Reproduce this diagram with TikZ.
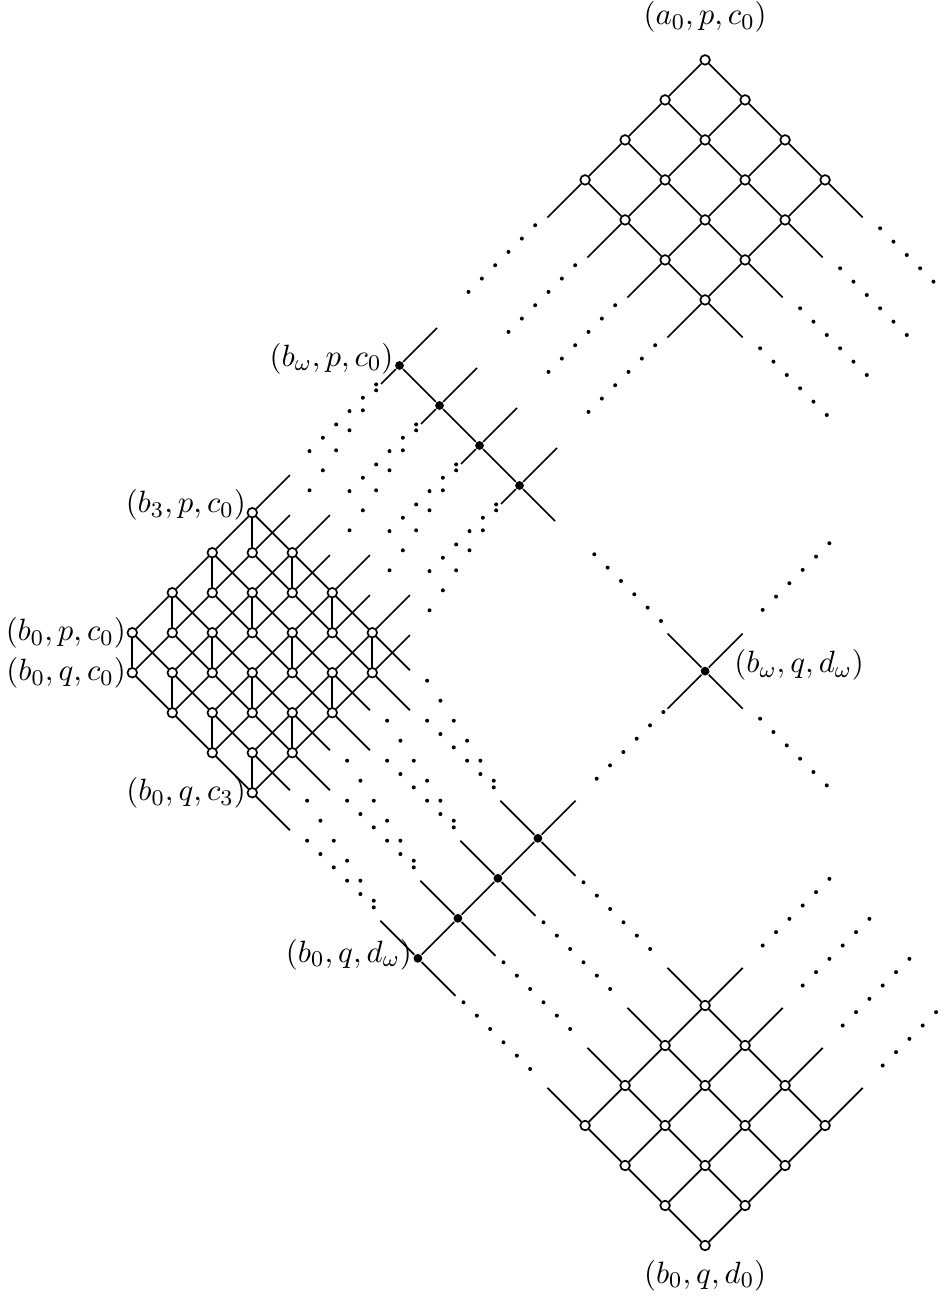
\documentclass[tikz,border=0pt]{standalone}
\usepackage{amsmath, amssymb}
\usepackage{tikz}
\usetikzlibrary{calc, positioning}

\tikzset{
  vtx/.style={circle, draw, fill=white, inner sep=0pt, minimum size=0.12cm},
  bvtx/.style={circle, fill=black, inner sep=0pt, minimum size=0.11cm},
  lbl/.style={inner sep=0pt, font=\fontsize{10.95}{13}\selectfont},
}
% 6 chấm trên một đường
\newcommand{\dotrun}[3]{%
  \foreach \s in {0,...,5} \fill ($(#1)+#2+\s*#3$) circle[radius=0.025cm];
}

\begin{document}
\begin{tikzpicture}[x=0.5cm, y=0.5cm, line width=0.6pt]
    \useasboundingbox (-3.3075,15.8175) rectangle (20.2925,-16.6075);

    % Khối b x {p,q} x c
    \foreach \b in {0,...,3}
      \foreach \c in {0,...,3} {
        \node[vtx] (p\b\c) at (\b+\c, \b-\c) {};
        \node[vtx] (q\b\c) at (\b+\c, \b-\c-1) {};
        \draw (p\b\c) -- (q\b\c);
      }
    \foreach \b/\bb in {0/1,1/2,2/3}
      \foreach \c in {0,...,3} {
        \draw (p\b\c) -- (p\bb\c);
        \draw (q\b\c) -- (q\bb\c);
        \draw (p\c\b) -- (p\c\bb);
        \draw (q\c\b) -- (q\c\bb);
      }
    \foreach \c in {0,...,3} {
        \draw (p3\c) -- ++(0.94,0.94);
        \draw (q3\c) -- ++(0.94,0.94);
        \draw (p\c3) -- ++(0.94,-0.94);
        \draw (q\c3) -- ++(0.94,-0.94);
    }

    % Hai xích đen và đỉnh giữa
    \foreach \k in {0,...,3} {
        \node[bvtx] (u\k) at (6.68+\k, 6.68-\k) {};
        \node[bvtx] (l\k) at (7.14+\k, -8.14+\k) {};
    }
    \foreach \k/\kk in {0/1,1/2,2/3} {
        \draw (u\k) -- (u\kk);
        \draw (l\k) -- (l\kk);
    }
    \foreach \k in {0,...,3} {
        \draw (u\k) -- ++(0.94,0.94);
        \draw (u\k) -- ++(-0.46,-0.46);
        \draw (l\k) -- ++(-0.94,0.94);
        \draw (l\k) -- ++(0.94,-0.94);
    }
    \draw (u3) -- ++(0.89,-0.89);
    \draw (l3) -- ++(0.94,0.94);
    \node[bvtx] (m) at (14.32,-0.96) {};
    \draw (m) -- ++(0.94,0.94);
    \draw (m) -- ++(0.94,-0.94);
    \draw (m) -- ++(-0.94,0.94);
    \draw (m) -- ++(-0.94,-0.94);

    % Lưới trên và lưới dưới
    \foreach \i in {0,...,3}
      \foreach \j in {0,...,3} {
        \node[vtx] (t\i\j) at (14.32-\i+\j, 14.32-\i-\j) {};
        \node[vtx] (d\i\j) at (14.32-\i+\j, -15.32+\i+\j) {};
      }
    \foreach \i/\ii in {0/1,1/2,2/3}
      \foreach \j in {0,...,3} {
        \draw (t\i\j) -- (t\ii\j);
        \draw (t\j\i) -- (t\j\ii);
        \draw (d\i\j) -- (d\ii\j);
        \draw (d\j\i) -- (d\j\ii);
      }
    \foreach \j in {0,...,3} {
        \draw (t3\j) -- ++(-0.94,-0.94);
        \draw (t\j3) -- ++(0.94,-0.94);
        \draw (d3\j) -- ++(-0.94,0.94);
        \draw (d\j3) -- ++(0.94,0.94);
    }

    % Các đường chấm
    \foreach \k in {0,...,3} {
        \dotrun{u\k}{(-2.25,-2.14)}{(1/3,1/3)}
        \dotrun{u\k}{(-2.25,-3.12)}{(1/3,1/2)}
        \dotrun{u\k}{(1.725,1.84)}{(1/3,1/3)}
        \dotrun{l\k}{(-2.77,2.94)}{(1/3,-1/3)}
        \dotrun{l\k}{(-2.77,3.94)}{(1/3,-1/2)}
        \dotrun{l\k}{(1.14,-1.10)}{(1/3,-1/3)}
        \dotrun{t\k3}{(1.375,-1.21)}{(1/3,-1/3)}
        \dotrun{d\k3}{(1.44,1.5)}{(1/3,1/3)}
    }
    \dotrun{m}{(-2.77,2.92)}{(1/3,-1/3)}
    \dotrun{m}{(-2.71,-2.69)}{(1/3,1/3)}
    \dotrun{m}{(1.44,1.53)}{(1/3,1/3)}
    \dotrun{m}{(1.375,-1.19)}{(1/3,-1/3)}

    % Nhãn
    \node[lbl, above=2.6mm of t00] (la) {$(a_0,p,c_0)$};
    \node[lbl, below=1mm of d00] (lb) {$(b_0,q,d_0)$};
    \node[lbl, left=0pt of u0, yshift=0.9mm] (lu) {$(b_\omega,p,c_0)$};
    \node[lbl, left=0pt of p30, yshift=1mm] (lp3) {$(b_3,p,c_0)$};
    \node[lbl, left=0pt of p00] (lp0) {$(b_0,p,c_0)$};
    \node[lbl, left=0pt of q00] (lq0) {$(b_0,q,c_0)$};
    \node[lbl, left=0pt of q03] (lq3) {$(b_0,q,c_3)$};
    \node[lbl, left=0pt of l0, yshift=0.5mm] (ll) {$(b_0,q,d_\omega)$};
    \node[lbl, right=2.9mm of m, yshift=0.8mm] (lm) {$(b_\omega,q,d_\omega)$};

\end{tikzpicture}
\end{document}
